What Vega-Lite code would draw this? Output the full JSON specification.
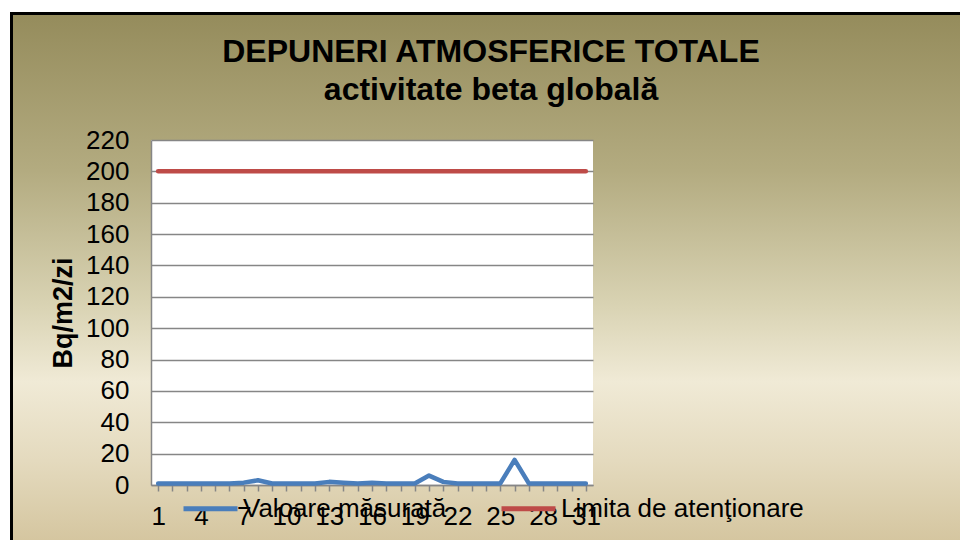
{
  "$schema": "https://vega.github.io/schema/vega-lite/v6.json",
  "padding": {"left": 10, "top": 12, "right": 0, "bottom": 0},
  "background": "white",
  "datasets": {
    "bg": [{"k": 1}],
    "none": [],
    "series": [
      {"day": 1, "value": 1, "series": "Valoare măsurată"},
      {"day": 2, "value": 1, "series": "Valoare măsurată"},
      {"day": 3, "value": 1, "series": "Valoare măsurată"},
      {"day": 4, "value": 1, "series": "Valoare măsurată"},
      {"day": 5, "value": 1, "series": "Valoare măsurată"},
      {"day": 6, "value": 1, "series": "Valoare măsurată"},
      {"day": 7, "value": 1.5, "series": "Valoare măsurată"},
      {"day": 8, "value": 3, "series": "Valoare măsurată"},
      {"day": 9, "value": 1, "series": "Valoare măsurată"},
      {"day": 10, "value": 1, "series": "Valoare măsurată"},
      {"day": 11, "value": 1, "series": "Valoare măsurată"},
      {"day": 12, "value": 1, "series": "Valoare măsurată"},
      {"day": 13, "value": 2, "series": "Valoare măsurată"},
      {"day": 14, "value": 1.5, "series": "Valoare măsurată"},
      {"day": 15, "value": 1, "series": "Valoare măsurată"},
      {"day": 16, "value": 1.5, "series": "Valoare măsurată"},
      {"day": 17, "value": 1, "series": "Valoare măsurată"},
      {"day": 18, "value": 1, "series": "Valoare măsurată"},
      {"day": 19, "value": 1, "series": "Valoare măsurată"},
      {"day": 20, "value": 6, "series": "Valoare măsurată"},
      {"day": 21, "value": 2, "series": "Valoare măsurată"},
      {"day": 22, "value": 1, "series": "Valoare măsurată"},
      {"day": 23, "value": 1, "series": "Valoare măsurată"},
      {"day": 24, "value": 1, "series": "Valoare măsurată"},
      {"day": 25, "value": 1, "series": "Valoare măsurată"},
      {"day": 26, "value": 16, "series": "Valoare măsurată"},
      {"day": 27, "value": 1, "series": "Valoare măsurată"},
      {"day": 28, "value": 1, "series": "Valoare măsurată"},
      {"day": 29, "value": 1, "series": "Valoare măsurată"},
      {"day": 30, "value": 1, "series": "Valoare măsurată"},
      {"day": 31, "value": 1, "series": "Valoare măsurată"},
      {"day": 1, "value": 200, "series": "Limita de atenţionare"},
      {"day": 2, "value": 200, "series": "Limita de atenţionare"},
      {"day": 3, "value": 200, "series": "Limita de atenţionare"},
      {"day": 4, "value": 200, "series": "Limita de atenţionare"},
      {"day": 5, "value": 200, "series": "Limita de atenţionare"},
      {"day": 6, "value": 200, "series": "Limita de atenţionare"},
      {"day": 7, "value": 200, "series": "Limita de atenţionare"},
      {"day": 8, "value": 200, "series": "Limita de atenţionare"},
      {"day": 9, "value": 200, "series": "Limita de atenţionare"},
      {"day": 10, "value": 200, "series": "Limita de atenţionare"},
      {"day": 11, "value": 200, "series": "Limita de atenţionare"},
      {"day": 12, "value": 200, "series": "Limita de atenţionare"},
      {"day": 13, "value": 200, "series": "Limita de atenţionare"},
      {"day": 14, "value": 200, "series": "Limita de atenţionare"},
      {"day": 15, "value": 200, "series": "Limita de atenţionare"},
      {"day": 16, "value": 200, "series": "Limita de atenţionare"},
      {"day": 17, "value": 200, "series": "Limita de atenţionare"},
      {"day": 18, "value": 200, "series": "Limita de atenţionare"},
      {"day": 19, "value": 200, "series": "Limita de atenţionare"},
      {"day": 20, "value": 200, "series": "Limita de atenţionare"},
      {"day": 21, "value": 200, "series": "Limita de atenţionare"},
      {"day": 22, "value": 200, "series": "Limita de atenţionare"},
      {"day": 23, "value": 200, "series": "Limita de atenţionare"},
      {"day": 24, "value": 200, "series": "Limita de atenţionare"},
      {"day": 25, "value": 200, "series": "Limita de atenţionare"},
      {"day": 26, "value": 200, "series": "Limita de atenţionare"},
      {"day": 27, "value": 200, "series": "Limita de atenţionare"},
      {"day": 28, "value": 200, "series": "Limita de atenţionare"},
      {"day": 29, "value": 200, "series": "Limita de atenţionare"},
      {"day": 30, "value": 200, "series": "Limita de atenţionare"},
      {"day": 31, "value": 200, "series": "Limita de atenţionare"}
    ]
  },
  "columns": 2,
  "concat": [
    {
      "width": 950,
      "height": 528,
      "data": {"name": "bg"},
      "view": {"stroke": null},
      "layer": [
        {
          "mark": {
            "type": "rect",
            "color": {
              "gradient": "linear",
              "x1": 0, "y1": 0, "x2": 0, "y2": 1,
              "stops": [
                {"offset": 0, "color": "#000000"},
                {"offset": 0.0057, "color": "#000000"},
                {"offset": 0.0057, "color": "#958c5c"},
                {"offset": 0.3, "color": "#b3ab80"},
                {"offset": 0.55, "color": "#d8d2b2"},
                {"offset": 0.7, "color": "#f0ead6"},
                {"offset": 0.85, "color": "#e4dabe"},
                {"offset": 1, "color": "#d5c6a0"}
              ]
            }
          },
          "encoding": {}
        },
        {
          "mark": {
            "type": "rect",
            "color": {
              "gradient": "linear",
              "x1": 0, "y1": 0, "x2": 1, "y2": 0,
              "stops": [
                {"offset": 0, "color": "#000000"},
                {"offset": 0.0032, "color": "#000000"},
                {"offset": 0.0032, "color": "rgba(0,0,0,0)"},
                {"offset": 1, "color": "rgba(0,0,0,0)"}
              ]
            }
          },
          "encoding": {}
        }
      ]
    },
    {
      "width": 1,
      "height": 1,
      "data": {"name": "none"},
      "view": {"stroke": null},
      "mark": "rect",
      "encoding": {}
    },
    {
      "width": 1,
      "height": 1,
      "data": {"name": "none"},
      "view": {"stroke": null},
      "mark": "rect",
      "encoding": {}
    },
    {
      "width": 442,
      "height": 345,
      "data": {"name": "series"},
      "title": {
        "text": ["DEPUNERI ATMOSFERICE TOTALE", "activitate beta globală"],
        "fontSize": 32,
        "fontWeight": "bold",
        "font": "Liberation Sans",
        "color": "#000000",
        "lineHeight": 38,
        "anchor": "middle",
        "frame": "group",
        "dx": 119,
        "offset": 20
      },
      "view": {"fill": "white", "stroke": null},
      "mark": {"type": "line", "strokeWidth": 4.5, "strokeCap": "round", "strokeJoin": "round"},
      "encoding": {
        "x": {
          "field": "day",
          "type": "ordinal",
          "sort": null,
          "scale": {"padding": 0.5},
          "axis": {
            "title": null,
            "labelAngle": 0,
            "labelFontSize": 26,
            "labelFont": "Liberation Sans",
            "labelColor": "#000000",
            "labelOverlap": false,
            "labelPadding": 12,
            "labelExpr": "(datum.value - 1) % 3 == 0 ? datum.label : ''",
            "tickSize": 6,
            "tickColor": "#868686",
            "tickWidth": 1.5,
            "domainColor": "#868686",
            "domainWidth": 1.5,
            "grid": false
          }
        },
        "y": {
          "field": "value",
          "type": "quantitative",
          "scale": {"domain": [0, 220], "nice": false},
          "axis": {
            "values": [0, 20, 40, 60, 80, 100, 120, 140, 160, 180, 200, 220],
            "title": "Bq/m2/zi",
            "titleFontSize": 27,
            "titleFontWeight": "bold",
            "titleFont": "Liberation Sans",
            "titleColor": "#000000",
            "titlePadding": 8,
            "labelFontSize": 26,
            "labelFont": "Liberation Sans",
            "labelColor": "#000000",
            "labelPadding": 22,
            "ticks": false,
            "domainColor": "#868686",
            "domainWidth": 1.5,
            "gridColor": "#868686",
            "gridWidth": 1.5
          }
        },
        "color": {
          "field": "series",
          "type": "nominal",
          "sort": null,
          "scale": {
            "domain": ["Valoare măsurată", "Limita de atenţionare"],
            "range": ["#4a7ebb", "#be4b48"]
          },
          "legend": {
            "title": null,
            "orient": "none",
            "direction": "horizontal",
            "legendX": 30,
            "legendY": 339,
            "symbolType": "stroke",
            "symbolSize": 2916,
            "symbolStrokeWidth": 5,
            "labelFontSize": 26,
            "labelFont": "Liberation Sans",
            "labelColor": "#000000",
            "labelOffset": 3,
            "labelLimit": 400,
            "columnPadding": 44
          }
        }
      }
    }
  ],
  "spacing": {"row": -504, "column": -911},
  "align": "none",
  "bounds": "full",
  "resolve": {"legend": {"color": "independent"}, "scale": {"color": "independent"}},
  "config": {
    "font": "Liberation Sans"
  }
}
